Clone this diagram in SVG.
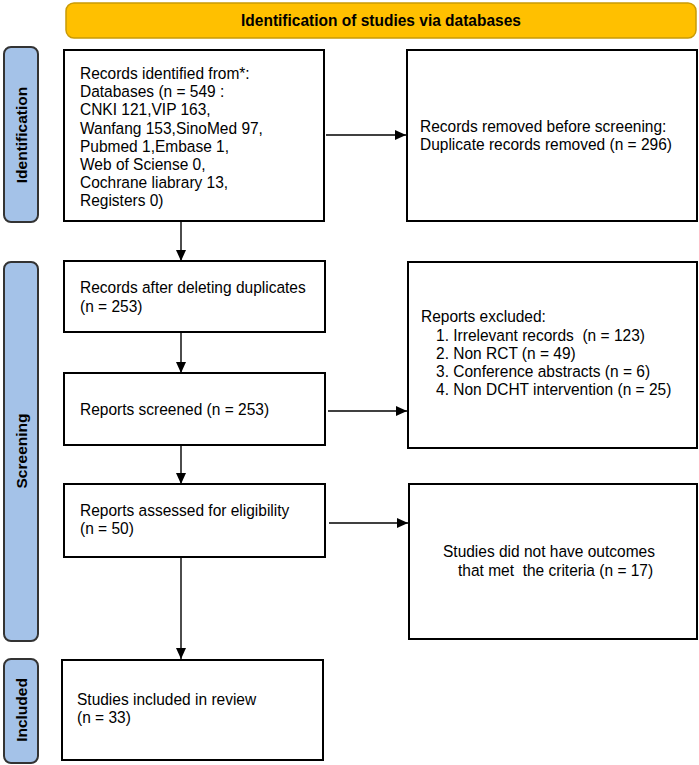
<svg xmlns="http://www.w3.org/2000/svg" width="699" height="765" viewBox="0 0 699 765">
<style>
text{font-family:"Liberation Sans",Arial,sans-serif;font-size:16.5px;fill:#000}
.b{font-weight:bold}
.lt{font-size:15.5px}
.box{fill:#fff;stroke:#000;stroke-width:2}
.lab{fill:#a4c2e8;stroke:#333;stroke-width:2}
.con{stroke:#000;stroke-width:1.4;fill:none;marker-end:url(#ah)}
</style>
<defs>
<marker id="ah" markerUnits="userSpaceOnUse" markerWidth="11" markerHeight="10" refX="11" refY="5" orient="auto">
<path d="M0,0 L11,5 L0,10 z" fill="#000"/>
</marker>
</defs>
<rect width="699" height="765" fill="#fff"/>
<g id="banner">
<rect x="66" y="3" width="630" height="35" rx="8" fill="#ffc000" stroke="#c99a06" stroke-width="1.5"/>
<g transform="matrix(0.94,0,0,1,22.86,0)"><text class="b" x="381" y="26" text-anchor="middle">Identification of studies via databases</text></g>
</g>
<g id="label-identification">
<rect class="lab" x="4" y="47" width="34" height="175" rx="7"/>
<text class="b lt" transform="translate(27,135) rotate(-90)" text-anchor="middle">Identification</text>
</g>
<g id="label-screening">
<rect class="lab" x="4" y="262" width="34" height="379" rx="7"/>
<text class="b lt" transform="translate(27,451) rotate(-90)" text-anchor="middle">Screening</text>
</g>
<g id="label-included">
<rect class="lab" x="4" y="659" width="34" height="104" rx="7"/>
<text class="b lt" transform="translate(27,710) rotate(-90)" text-anchor="middle">Included</text>
</g>
<g id="records-identified">
<rect class="box" x="64" y="50" width="260" height="171"/>
<g transform="matrix(0.94,0,0,1,4.8,0)">
<text x="80" y="79">Records identified from*:</text>
<text x="80" y="97.2">Databases (n = 549 :</text>
<text x="80" y="115.4">CNKI 121,VIP 163,</text>
<text x="80" y="133.6">Wanfang 153,SinoMed 97,</text>
<text x="80" y="151.8">Pubmed 1,Embase 1,</text>
<text x="80" y="170">Web of Sciense 0,</text>
<text x="80" y="188.2">Cochrane liabrary 13,</text>
<text x="80" y="206.4">Registers 0)</text>
</g>
</g>
<g id="records-removed">
<rect class="box" x="407" y="50" width="290" height="171"/>
<g transform="matrix(0.94,0,0,1,25.2,0)">
<text x="420" y="132">Records removed before screening:</text>
<text x="420" y="150">Duplicate records removed (n = 296)</text>
</g>
</g>
<g id="records-after">
<rect class="box" x="64" y="261" width="261" height="71"/>
<g transform="matrix(0.94,0,0,1,4.8,0)">
<text x="80" y="293">Records after deleting duplicates</text>
<text x="80" y="312">(n = 253)</text>
</g>
</g>
<g id="reports-screened">
<rect class="box" x="64" y="373" width="261" height="72"/>
<g transform="matrix(0.94,0,0,1,4.8,0)">
<text x="80" y="415">Reports screened (n = 253)</text>
</g>
</g>
<g id="reports-excluded">
<rect class="box" x="408" y="262" width="289" height="186"/>
<g transform="matrix(0.94,0,0,1,25.26,0)">
<text x="421" y="322">Reports excluded:</text>
<text x="437" y="341" xml:space="preserve">1. Irrelevant records  (n = 123)</text>
<text x="437" y="359">2. Non RCT (n = 49)</text>
<text x="437" y="377">3. Conference abstracts (n = 6)</text>
<text x="437" y="395">4. Non DCHT intervention (n = 25)</text>
</g>
</g>
<g id="reports-assessed">
<rect class="box" x="64" y="484" width="261" height="73"/>
<g transform="matrix(0.94,0,0,1,4.8,0)">
<text x="80" y="516">Reports assessed for eligibility</text>
<text x="80" y="534">(n = 50)</text>
</g>
</g>
<g id="studies-no-outcomes">
<rect class="box" x="409" y="484" width="288" height="155"/>
<g transform="matrix(0.94,0,0,1,26.58,0)">
<text x="443" y="557">Studies did not have outcomes</text>
<text x="459" y="576" xml:space="preserve">that met  the criteria (n = 17)</text>
</g>
</g>
<g id="studies-included">
<rect class="box" x="62" y="660" width="261" height="100"/>
<g transform="matrix(0.94,0,0,1,4.62,0)">
<text x="77" y="705">Studies included in review</text>
<text x="77" y="723">(n = 33)</text>
</g>
</g>
<g id="connectors">
<line class="con" x1="326" y1="135" x2="406" y2="135"/>
<line class="con" x1="181" y1="221" x2="181" y2="261"/>
<line class="con" x1="181" y1="332" x2="181" y2="373"/>
<line class="con" x1="328" y1="411" x2="407" y2="411"/>
<line class="con" x1="181" y1="445" x2="181" y2="484"/>
<line class="con" x1="329" y1="523" x2="408" y2="523"/>
<line class="con" x1="181" y1="557" x2="181" y2="659"/>
</g>
</svg>
